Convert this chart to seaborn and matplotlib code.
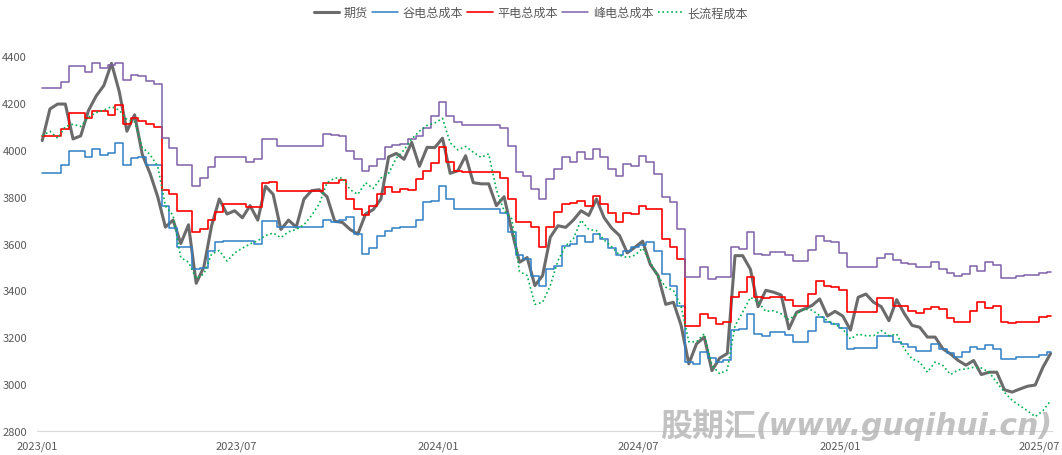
import pandas as pd
import matplotlib
matplotlib.use("Agg")
import matplotlib.pyplot as plt
import seaborn as sns

# weekly observations, 2023-01-06 .. 2025-07-11
dates = pd.date_range("2023-01-06", periods=132, freq="7D")

futures = [
    4040, 4175, 4196, 4196, 4047, 4060, 4168, 4230, 4275, 4370, 4250, 4080, 4150, 3980, 3900, 3800, 3670, 3700, 3600, 3680, 3430,
    3500, 3676, 3790, 3726, 3740, 3710, 3762, 3700, 3845, 3810, 3660, 3700, 3670, 3790, 3826, 3830, 3800, 3695, 3690, 3660, 3640, 3726, 3745, 3790, 3970,
    3985, 3960, 4032, 3930, 4011, 4010, 4050, 3900, 3911, 3975, 3860, 3855, 3855, 3762, 3800, 3655, 3520, 3540, 3420, 3463, 3627, 3676, 3669, 3700,
    3740, 3720, 3790, 3710, 3665, 3634, 3560, 3584, 3610, 3510, 3463, 3340, 3349, 3250, 3086, 3171, 3200, 3057, 3110, 3130, 3548, 3548, 3490, 3330, 3400,
    3392, 3380, 3235, 3306, 3320, 3335, 3363, 3290, 3310, 3290, 3230, 3370, 3384, 3349, 3330, 3270, 3360, 3300, 3250, 3242, 3200, 3200, 3150, 3128, 3100,
    3080, 3100, 3040, 3050, 3050, 2975, 2965, 2978, 2990, 2995, 3071, 3130,
]
valley_cost = [
    3900, 3900, 3900, 3935, 3997, 3997, 3968, 4005, 3980, 3985, 4030, 3935, 3965, 3970, 3935, 3935, 3760, 3668, 3585, 3585, 3490,
    3495, 3570, 3605, 3610, 3610, 3610, 3610, 3600, 3698, 3698, 3669, 3669, 3669, 3669, 3669, 3669, 3700, 3694, 3700, 3712, 3640, 3555, 3580, 3630, 3655,
    3665, 3669, 3669, 3700, 3776, 3783, 3847, 3790, 3748, 3748, 3748, 3748, 3748, 3748, 3730, 3650, 3550, 3534, 3460, 3420, 3490, 3505, 3590, 3600,
    3630, 3605, 3640, 3620, 3580, 3550, 3570, 3584, 3595, 3605, 3570, 3470, 3420, 3335, 3093, 3086, 3135, 3110, 3095, 3100, 3230, 3235, 3300, 3214, 3206,
    3221, 3221, 3210, 3178, 3178, 3228, 3285, 3265, 3256, 3240, 3150, 3152, 3152, 3152, 3206, 3206, 3178, 3170, 3157, 3140, 3140, 3171, 3150, 3130, 3114,
    3135, 3156, 3150, 3166, 3149, 3106, 3106, 3113, 3113, 3115, 3125, 3135,
]
flat_cost = [
    4061, 4061, 4061, 4090, 4158, 4158, 4135, 4168, 4165, 4150, 4190, 4110, 4135, 4125, 4110, 4100, 3830, 3810, 3740, 3740, 3650,
    3660, 3700, 3733, 3770, 3769, 3769, 3755, 3755, 3860, 3862, 3826, 3826, 3826, 3826, 3826, 3826, 3860, 3860, 3870, 3790, 3748, 3720, 3760, 3812, 3840,
    3820, 3833, 3830, 3876, 3911, 3945, 4011, 3950, 3911, 3907, 3907, 3907, 3907, 3907, 3880, 3790, 3690, 3690, 3670, 3584, 3669, 3733, 3769, 3775,
    3780, 3760, 3804, 3770, 3730, 3690, 3730, 3726, 3760, 3748, 3748, 3620, 3584, 3534, 3249, 3249, 3300, 3280, 3256, 3263, 3370, 3391, 3455, 3370, 3365,
    3370, 3370, 3360, 3335, 3335, 3384, 3441, 3420, 3413, 3400, 3306, 3309, 3309, 3309, 3366, 3366, 3335, 3335, 3313, 3303, 3320, 3330, 3320, 3280, 3265,
    3266, 3313, 3350, 3323, 3335, 3263, 3260, 3265, 3263, 3266, 3284, 3289,
]
peak_cost = [
    4263, 4263, 4263, 4290, 4360, 4360, 4335, 4370, 4350, 4365, 4370, 4300, 4320, 4315, 4295, 4280, 4050, 4010, 3935, 3935, 3845,
    3880, 3925, 3968, 3968, 3968, 3968, 3947, 3960, 4045, 4047, 4018, 4018, 4018, 4018, 4018, 4018, 4068, 4065, 4061, 3995, 3960, 3911, 3933, 3960, 4011,
    4020, 4025, 4047, 4060, 4095, 4146, 4203, 4146, 4120, 4107, 4107, 4107, 4107, 4107, 4095, 4015, 3905, 3890, 3833, 3790, 3876, 3919, 3968, 3950,
    3990, 3960, 4005, 3968, 3919, 3890, 3940, 3930, 3975, 3947, 3897, 3800, 3776, 3660, 3456, 3456, 3500, 3448, 3456, 3456, 3584, 3577, 3650, 3555, 3550,
    3562, 3562, 3550, 3527, 3527, 3574, 3634, 3612, 3608, 3560, 3498, 3500, 3501, 3501, 3540, 3555, 3530, 3517, 3513, 3500, 3500, 3520, 3490, 3472, 3462,
    3470, 3505, 3484, 3520, 3510, 3451, 3451, 3462, 3465, 3465, 3474, 3479,
]
long_process_cost = [
    4060, 4080, 4050, 4100, 4110, 4100, 4139, 4160, 4170, 4185, 4170, 4130, 4120, 4010, 3980, 3930, 3760, 3720, 3540, 3520, 3450,
    3470, 3555, 3570, 3525, 3560, 3580, 3598, 3612, 3634, 3645, 3625, 3650, 3660, 3680, 3720, 3770, 3860, 3880, 3880, 3830, 3810, 3860, 3835, 3880, 3900,
    3965, 4000, 4047, 4080, 4105, 4115, 4135, 4030, 4000, 4015, 3990, 3968, 3983, 3830, 3740, 3705, 3480, 3463, 3340, 3349, 3420, 3527, 3590, 3620,
    3700, 3660, 3655, 3615, 3585, 3550, 3540, 3550, 3580, 3520, 3460, 3413, 3400, 3330, 3180, 3180, 3214, 3080, 3043, 3060, 3249, 3306, 3370, 3350, 3310,
    3313, 3299, 3275, 3299, 3320, 3315, 3292, 3270, 3255, 3235, 3192, 3213, 3206, 3206, 3228, 3206, 3213, 3150, 3107, 3093, 3050, 3093, 3079, 3040, 3060,
    3064, 3071, 3068, 3050, 3007, 2964, 2930, 2907, 2885, 2860, 2885, 2928,
]

tick_dates = ["2023-01-01", "2023-07-01", "2024-01-01", "2024-07-01", "2025-01-01", "2025-07-01"]
tick_labels = ["2023/01", "2023/07", "2024/01", "2024/07", "2025/01", "2025/07"]

# name, values, colour, width, dash, alpha, drawstyle
series = [
    ("期货", futures, "#3a3a3a", 2.2, "-", 0.75, "default"),
    ("谷电总成本", valley_cost, "#2f7fc4", 1.1, "-", 1.0, "steps-mid"),
    ("平电总成本", flat_cost, "#ff0000", 1.2, "-", 1.0, "steps-mid"),
    ("峰电总成本", peak_cost, "#7f60a8", 1.1, "-", 1.0, "steps-mid"),
    ("长流程成本", long_process_cost, "#00b050", 1.2, ":", 1.0, "default"),
]

sns.set_style("white")
plt.rcParams["font.family"] = ["Noto Sans CJK SC", "DejaVu Sans"]
GREY = "#595959"

fig = plt.figure(figsize=(10.62, 4.56), dpi=100)
ax = fig.add_axes([0.0346, 0.0533, 0.9557, 0.821])

for name, vals, color, lw, ls, alpha, ds in series:
    df = pd.DataFrame({"date": dates, "value": vals})
    sns.lineplot(data=df, x="date", y="value", ax=ax, color=color, linewidth=lw,
                 linestyle=ls, alpha=alpha, label=name, drawstyle=ds)

ax.set_xlim(pd.Timestamp("2023-01-01"), pd.Timestamp("2025-07-12"))
ax.set_ylim(2800, 4400)
ax.set_yticks(range(2800, 4401, 200))
ax.set_xticks(pd.to_datetime(tick_dates))
ax.set_xticklabels(tick_labels)
ax.set_xlabel("")
ax.set_ylabel("")

for s in ["top", "right", "left"]:
    ax.spines[s].set_visible(False)
ax.spines["bottom"].set_color("#d9d9d9")
ax.tick_params(axis="y", length=0, labelsize=8, labelcolor=GREY, pad=7)
ax.tick_params(axis="x", length=4, color="#d9d9d9", labelsize=8, labelcolor=GREY, pad=3)

ax.legend(loc="upper center", bbox_to_anchor=(0.5, 1.0), bbox_transform=fig.transFigure,
          ncol=5, frameon=False, fontsize=8.7, labelcolor=GREY, handlelength=2.1,
          handletextpad=0.4, columnspacing=0.35, borderaxespad=0.2)

# watermark
fig.text(0.622, 0.065, "股期汇", fontsize=23, fontweight="bold", color="#b3b3b3",
         alpha=0.8, ha="left", va="center", family=["Noto Sans CJK SC"])
fig.text(0.712, 0.065, "(www.guqihui.cn)", fontsize=21.5, fontweight="bold", style="italic",
         color="#b3b3b3", alpha=0.8, ha="left", va="center", family=["DejaVu Sans"])

fig.savefig("out.png", dpi=100)
